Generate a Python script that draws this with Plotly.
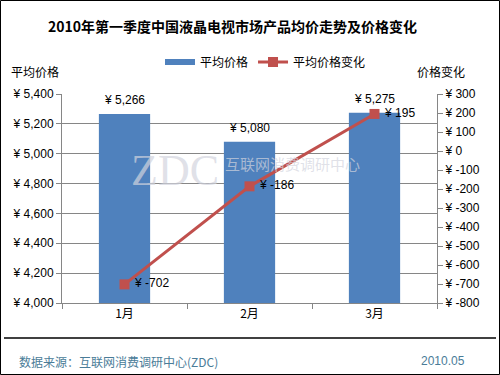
import plotly.graph_objects as go

months = ["1月", "2月", "3月"]
avg_price = [5266, 5080, 5275]
price_change = [-702, -186, 195]
left_ticks = [4000, 4200, 4400, 4600, 4800, 5000, 5200, 5400]
right_ticks = [-800, -700, -600, -500, -400, -300, -200, -100, 0, 100, 200, 300]

W, H = 500, 375
L, R, T, B = 62, 63, 94, 72
pw, ph = W - L - R, H - T - B

def px(x):
    return (x - L) / pw

def py(y):
    return (H - B - y) / ph

cjk = "Noto Sans CJK SC, Liberation Sans, sans-serif"
num = "Liberation Sans, Arial, sans-serif"
BLUE, RED = "#4F81BD", "#C0504D"

fig = go.Figure()
fig.add_trace(go.Bar(
    x=months, y=avg_price, name="平均价格", showlegend=False,
    marker=dict(color=BLUE, line=dict(width=0)),
    width=0.41,
))
# legend entry for the bars (wide flat swatch like the original)
fig.add_trace(go.Scatter(
    x=[None], y=[None], name="平均价格", mode="lines",
    line=dict(color=BLUE, width=6),
))
fig.add_trace(go.Scatter(
    x=months, y=price_change, name="平均价格变化", yaxis="y2",
    mode="lines+markers+text",
    line=dict(color=RED, width=3),
    marker=dict(symbol="square", size=10, color=RED),
    text=[f" ¥ {v}" for v in price_change], texttemplate="%{text}",
    textposition="middle right",
    textfont=dict(family=num, size=12, color="#000000"),
    cliponaxis=False,
))

shapes = [
    dict(type="rect", xref="paper", yref="paper",
         x0=px(0.5), x1=px(W - 0.5), y0=py(H - 0.5), y1=py(0.5),
         line=dict(color="#000000", width=1)),
    dict(type="line", xref="paper", yref="paper",
         x0=px(4), x1=px(496), y0=py(338), y1=py(338),
         line=dict(color="#000000", width=1.5)),
]

def ann(text, x, y, xanchor="center", size=12, family=cjk, color="#000000"):
    return dict(text=text, xref="paper", yref="paper", x=px(x), y=py(y),
                xanchor=xanchor, yanchor="middle", showarrow=False,
                font=dict(family=family, size=size, color=color))

annotations = [
    ann("<b>2010年第一季度中国液晶电视市场产品均价走势及价格变化</b>", 232, 26, size=14),
    ann("平均价格", 35, 71),
    ann("价格变化", 441, 72),
    ann("数据来源：互联网消费调研中心(ZDC)", 17, 361, xanchor="left", color="#4A7C98"),
    ann("2010.05", 467, 361, xanchor="right", family=num, color="#4A7C98"),
    ann("ZDC", 175, 170, size=44, family="Liberation Serif, serif",
        color="rgba(210,212,222,0.7)"),
    ann("互联网消费调研中心", 292, 163, size=15, color="rgba(210,212,222,0.7)"),
]
# bar value labels
for m, v in zip(months, avg_price):
    annotations.append(dict(
        text=f"¥ {v:,}", x=m, y=v, xref="x", yref="y",
        xanchor="center", yanchor="bottom", yshift=5, showarrow=False,
        font=dict(family=num, size=12, color="#000000")))

fig.update_layout(
    width=W, height=H,
    margin=dict(l=L, r=R, t=T, b=B, autoexpand=False),
    paper_bgcolor="#FFFFFF", plot_bgcolor="#FFFFFF",
    showlegend=True,
    legend=dict(orientation="h", x=px(160), y=py(62), xanchor="left", yanchor="middle",
                font=dict(family=cjk, size=12, color="#000000"),
                bgcolor="rgba(0,0,0,0)", itemwidth=30, tracegroupgap=0),
    xaxis=dict(type="category", tickson="boundaries", ticks="outside", ticklen=5,
               tickcolor="#868686", showline=True, linecolor="#868686", linewidth=1,
               showgrid=False,
               tickfont=dict(family=cjk, size=12, color="#000000")),
    yaxis=dict(range=[4000, 5400], tickvals=left_ticks,
               ticktext=[f"¥ {v:,}" for v in left_ticks],
               ticks="outside", ticklen=5, tickcolor="#868686",
               showline=True, linecolor="#868686", linewidth=1,
               showgrid=True, gridcolor="#868686", gridwidth=1, zeroline=False,
               tickfont=dict(family=num, size=12, color="#000000")),
    yaxis2=dict(range=[-800, 300], tickvals=right_ticks,
                ticktext=[f"¥ {v}" for v in right_ticks],
                overlaying="y", side="right",
                ticks="outside", ticklen=5, tickcolor="#868686",
                showline=True, linecolor="#868686", linewidth=1,
                showgrid=False, zeroline=False,
                tickfont=dict(family=num, size=12, color="#000000")),
    shapes=shapes,
    annotations=annotations,
)

fig.write_html("out.html", config={"displayModeBar": False},
               post_script="document.body.style.margin='0';document.body.style.overflow='hidden';")
